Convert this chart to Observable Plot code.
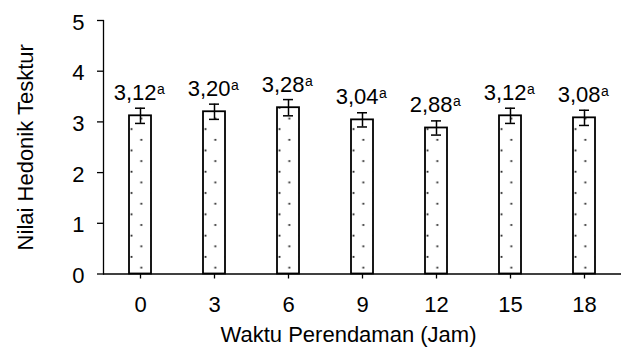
<!DOCTYPE html>
<html>
<head>
<meta charset="utf-8">
<script src="https://cdn.jsdelivr.net/npm/d3@7"></script>
<script src="https://cdn.jsdelivr.net/npm/@observablehq/plot@0.6"></script>
<style>
  html, body { margin: 0; padding: 0; background: #fff; }
</style>
</head>
<body>
<div id="chart"></div>
<script>
// Soaking time (hours) and mean hedonic texture scores with error bars
const waktu = ["0", "3", "6", "9", "12", "15", "18"];
const nilai = [3.12, 3.20, 3.28, 3.04, 2.88, 3.12, 3.08];
const galat = [0.15, 0.15, 0.16, 0.14, 0.14, 0.15, 0.15];
const notasi = ["a", "a", "a", "a", "a", "a", "a"];
const yTicks = [0, 1, 2, 3, 4, 5];
const judulX = "Waktu Perendaman (Jam)";
const judulY = "Nilai Hedonik Tesktur";

const rows = waktu.map((w, i) => ({
  waktu: w,
  nilai: nilai[i],
  galat: galat[i],
  notasi: notasi[i],
  label: nilai[i].toFixed(2).replace(".", ",")
}));

const font = "'Liberation Sans', Arial, sans-serif";
const fs = 22;

const chart = Plot.plot({
  width: 625,
  height: 351,
  marginTop: 20,
  marginBottom: 77.5,
  marginLeft: 103,
  marginRight: 4,
  style: { fontFamily: font, fontSize: fs + "px", color: "#000", background: "#fff" },
  x: { domain: waktu, paddingInner: 0.7, paddingOuter: 0.35, label: null },
  y: { domain: [0, 5], label: null },
  marks: [
    Plot.barY(rows, { x: "waktu", y: "nilai", fill: "white", stroke: "#000", strokeWidth: 1.8 }),
    // error bars
    Plot.ruleX(rows, { x: "waktu", y1: d => d.nilai - d.galat, y2: d => d.nilai + d.galat, stroke: "#000", strokeWidth: 1.5 }),
    Plot.tickY(rows, { x: "waktu", y: d => d.nilai + d.galat, insetLeft: 6, insetRight: 6, stroke: "#000", strokeWidth: 1.5 }),
    Plot.tickY(rows, { x: "waktu", y: d => d.nilai - d.galat, insetLeft: 6, insetRight: 6, stroke: "#000", strokeWidth: 1.5 }),
    // value labels with superscript notation
    Plot.text(rows, { x: "waktu", y: "nilai", text: "label", textAnchor: "end", lineAnchor: "bottom", dx: 16, dy: -16, fontSize: fs }),
    Plot.text(rows, { x: "waktu", y: "nilai", text: "notasi", textAnchor: "start", lineAnchor: "bottom", dx: 16.5, dy: -22, fontSize: 14 }),
    // axes
    Plot.ruleY([0], { stroke: "#000", strokeWidth: 1.3 }),
    Plot.frame({ anchor: "left", stroke: "#000", strokeWidth: 1.3 }),
    Plot.axisY({ ticks: yTicks, tickSize: 6, fill: "none", label: null, strokeWidth: 1.3 }),
    Plot.axisY({ ticks: yTicks, tickSize: 0, tickPadding: 19, dy: 2, tickFormat: d => String(d), label: null, fontSize: fs }),
    Plot.axisX({ tickSize: 5, tickPadding: 17, label: null, strokeWidth: 1.3, fontSize: fs }),
    // axis titles
    Plot.text([judulY], { text: d => d, frameAnchor: "left", textAnchor: "middle", rotate: -90, dx: -78, fontSize: fs }),
    Plot.text([judulX], { text: d => d, frameAnchor: "bottom", textAnchor: "middle", lineAnchor: "bottom", dx: -14, dy: 68, fontSize: fs })
  ]
});

document.getElementById("chart").appendChild(chart);

// dotted fill for each bar, anchored at the bar's own left edge and base
const svg = d3.select(chart);
const defs = svg.insert("defs", ":first-child");
const pw = 20.5, ph = 21.3;
svg.selectAll("g[aria-label='bar'] rect").each(function (d, i) {
  const x = +this.getAttribute("x");
  const y = +this.getAttribute("y");
  const h = +this.getAttribute("height");
  const id = "titik-" + i;
  const p = defs.append("pattern")
    .attr("id", id)
    .attr("patternUnits", "userSpaceOnUse")
    .attr("x", x)
    .attr("y", y + h)
    .attr("width", pw)
    .attr("height", ph);
  p.append("rect").attr("width", pw).attr("height", ph).attr("fill", "#fff");
  p.append("rect").attr("x", 1.6).attr("y", 3.8).attr("width", 1.8).attr("height", 1.8).attr("fill", "#222");
  p.append("rect").attr("x", 11.4).attr("y", 14.5).attr("width", 1.8).attr("height", 1.8).attr("fill", "#222");
  this.setAttribute("fill", `url(#${id})`);
});
</script>
</body>
</html>
